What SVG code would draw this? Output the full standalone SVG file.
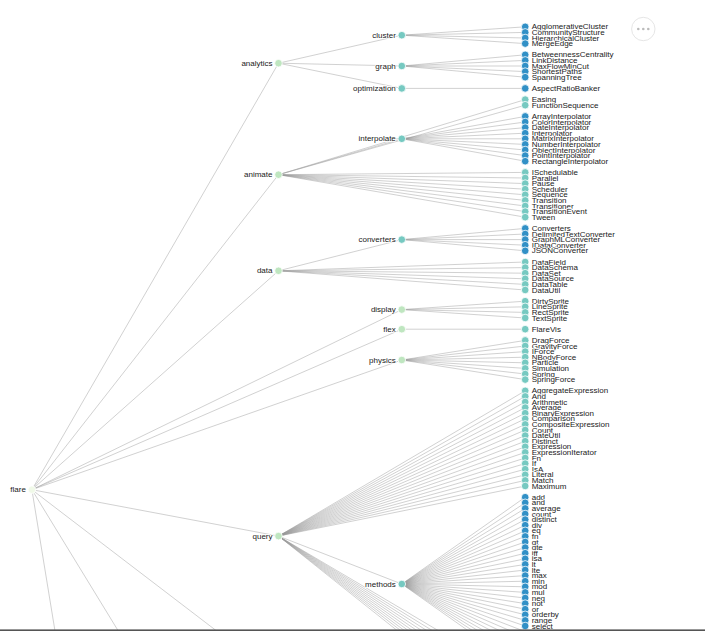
<svg xmlns="http://www.w3.org/2000/svg" width="705" height="631" viewBox="0 0 705 631">
<style>
.links line{stroke:#999;stroke-opacity:.45;stroke-width:1}
.node circle{stroke:#fff;stroke-width:.8}
.node text{font-family:"Liberation Sans",Arial,sans-serif;font-size:8px;fill:#1a1a1a;stroke:#fff;stroke-width:1.6;stroke-linejoin:round;paint-order:stroke}
.int text{text-anchor:end}
.d0 circle{fill:#f0f9e8}
.d1 circle{fill:#bfe6c0}
.d2 circle{fill:#76c9c1}
.d3 circle{fill:#3190c6}
</style>
<rect width="705" height="631" fill="#fff"/>
<g id="links" class="links">
<line x1="31.9" y1="489.7" x2="278.5" y2="63.2"/>
<line x1="31.9" y1="489.7" x2="278.5" y2="174.7"/>
<line x1="31.9" y1="489.7" x2="278.5" y2="270.8"/>
<line x1="31.9" y1="489.7" x2="401.8" y2="309.6"/>
<line x1="31.9" y1="489.7" x2="401.8" y2="329.2"/>
<line x1="31.9" y1="489.7" x2="401.8" y2="360"/>
<line x1="31.9" y1="489.7" x2="278.5" y2="536.1"/>
<line x1="31.9" y1="489.7" x2="401.8" y2="772.5"/>
<line x1="31.9" y1="489.7" x2="278.5" y2="892.9"/>
<line x1="31.9" y1="489.7" x2="155.2" y2="1244"/>
<line x1="278.5" y1="63.2" x2="401.8" y2="35.2"/>
<line x1="278.5" y1="63.2" x2="401.8" y2="66"/>
<line x1="278.5" y1="63.2" x2="401.8" y2="88.4"/>
<line x1="401.8" y1="35.2" x2="525.2" y2="26.8"/>
<line x1="401.8" y1="35.2" x2="525.2" y2="32.4"/>
<line x1="401.8" y1="35.2" x2="525.2" y2="38"/>
<line x1="401.8" y1="35.2" x2="525.2" y2="43.6"/>
<line x1="401.8" y1="66" x2="525.2" y2="54.8"/>
<line x1="401.8" y1="66" x2="525.2" y2="60.4"/>
<line x1="401.8" y1="66" x2="525.2" y2="66"/>
<line x1="401.8" y1="66" x2="525.2" y2="71.6"/>
<line x1="401.8" y1="66" x2="525.2" y2="77.2"/>
<line x1="401.8" y1="88.4" x2="525.2" y2="88.4"/>
<line x1="278.5" y1="174.7" x2="525.2" y2="99.6"/>
<line x1="278.5" y1="174.7" x2="525.2" y2="105.2"/>
<line x1="278.5" y1="174.7" x2="401.8" y2="138.8"/>
<line x1="278.5" y1="174.7" x2="525.2" y2="172.4"/>
<line x1="278.5" y1="174.7" x2="525.2" y2="178"/>
<line x1="278.5" y1="174.7" x2="525.2" y2="183.6"/>
<line x1="278.5" y1="174.7" x2="525.2" y2="189.2"/>
<line x1="278.5" y1="174.7" x2="525.2" y2="194.8"/>
<line x1="278.5" y1="174.7" x2="525.2" y2="200.4"/>
<line x1="278.5" y1="174.7" x2="525.2" y2="206"/>
<line x1="278.5" y1="174.7" x2="525.2" y2="211.6"/>
<line x1="278.5" y1="174.7" x2="525.2" y2="217.2"/>
<line x1="401.8" y1="138.8" x2="525.2" y2="116.4"/>
<line x1="401.8" y1="138.8" x2="525.2" y2="122"/>
<line x1="401.8" y1="138.8" x2="525.2" y2="127.6"/>
<line x1="401.8" y1="138.8" x2="525.2" y2="133.2"/>
<line x1="401.8" y1="138.8" x2="525.2" y2="138.8"/>
<line x1="401.8" y1="138.8" x2="525.2" y2="144.4"/>
<line x1="401.8" y1="138.8" x2="525.2" y2="150"/>
<line x1="401.8" y1="138.8" x2="525.2" y2="155.6"/>
<line x1="401.8" y1="138.8" x2="525.2" y2="161.2"/>
<line x1="278.5" y1="270.8" x2="401.8" y2="239.6"/>
<line x1="278.5" y1="270.8" x2="525.2" y2="262"/>
<line x1="278.5" y1="270.8" x2="525.2" y2="267.6"/>
<line x1="278.5" y1="270.8" x2="525.2" y2="273.2"/>
<line x1="278.5" y1="270.8" x2="525.2" y2="278.8"/>
<line x1="278.5" y1="270.8" x2="525.2" y2="284.4"/>
<line x1="278.5" y1="270.8" x2="525.2" y2="290"/>
<line x1="401.8" y1="239.6" x2="525.2" y2="228.4"/>
<line x1="401.8" y1="239.6" x2="525.2" y2="234"/>
<line x1="401.8" y1="239.6" x2="525.2" y2="239.6"/>
<line x1="401.8" y1="239.6" x2="525.2" y2="245.2"/>
<line x1="401.8" y1="239.6" x2="525.2" y2="250.8"/>
<line x1="401.8" y1="309.6" x2="525.2" y2="301.2"/>
<line x1="401.8" y1="309.6" x2="525.2" y2="306.8"/>
<line x1="401.8" y1="309.6" x2="525.2" y2="312.4"/>
<line x1="401.8" y1="309.6" x2="525.2" y2="318"/>
<line x1="401.8" y1="329.2" x2="525.2" y2="329.2"/>
<line x1="401.8" y1="360" x2="525.2" y2="340.4"/>
<line x1="401.8" y1="360" x2="525.2" y2="346"/>
<line x1="401.8" y1="360" x2="525.2" y2="351.6"/>
<line x1="401.8" y1="360" x2="525.2" y2="357.2"/>
<line x1="401.8" y1="360" x2="525.2" y2="362.8"/>
<line x1="401.8" y1="360" x2="525.2" y2="368.4"/>
<line x1="401.8" y1="360" x2="525.2" y2="374"/>
<line x1="401.8" y1="360" x2="525.2" y2="379.6"/>
<line x1="278.5" y1="536.1" x2="525.2" y2="390.8"/>
<line x1="278.5" y1="536.1" x2="525.2" y2="396.4"/>
<line x1="278.5" y1="536.1" x2="525.2" y2="402"/>
<line x1="278.5" y1="536.1" x2="525.2" y2="407.6"/>
<line x1="278.5" y1="536.1" x2="525.2" y2="413.2"/>
<line x1="278.5" y1="536.1" x2="525.2" y2="418.8"/>
<line x1="278.5" y1="536.1" x2="525.2" y2="424.4"/>
<line x1="278.5" y1="536.1" x2="525.2" y2="430"/>
<line x1="278.5" y1="536.1" x2="525.2" y2="435.6"/>
<line x1="278.5" y1="536.1" x2="525.2" y2="441.2"/>
<line x1="278.5" y1="536.1" x2="525.2" y2="446.8"/>
<line x1="278.5" y1="536.1" x2="525.2" y2="452.4"/>
<line x1="278.5" y1="536.1" x2="525.2" y2="458"/>
<line x1="278.5" y1="536.1" x2="525.2" y2="463.6"/>
<line x1="278.5" y1="536.1" x2="525.2" y2="469.2"/>
<line x1="278.5" y1="536.1" x2="525.2" y2="474.8"/>
<line x1="278.5" y1="536.1" x2="525.2" y2="480.4"/>
<line x1="278.5" y1="536.1" x2="525.2" y2="486"/>
<line x1="278.5" y1="536.1" x2="401.8" y2="584"/>
<line x1="278.5" y1="536.1" x2="525.2" y2="682"/>
<line x1="278.5" y1="536.1" x2="525.2" y2="687.6"/>
<line x1="278.5" y1="536.1" x2="525.2" y2="693.2"/>
<line x1="278.5" y1="536.1" x2="525.2" y2="698.8"/>
<line x1="278.5" y1="536.1" x2="525.2" y2="704.4"/>
<line x1="278.5" y1="536.1" x2="525.2" y2="710"/>
<line x1="278.5" y1="536.1" x2="525.2" y2="715.6"/>
<line x1="278.5" y1="536.1" x2="525.2" y2="721.2"/>
<line x1="278.5" y1="536.1" x2="525.2" y2="726.8"/>
<line x1="278.5" y1="536.1" x2="525.2" y2="732.4"/>
<line x1="401.8" y1="584" x2="525.2" y2="497.2"/>
<line x1="401.8" y1="584" x2="525.2" y2="502.8"/>
<line x1="401.8" y1="584" x2="525.2" y2="508.4"/>
<line x1="401.8" y1="584" x2="525.2" y2="514"/>
<line x1="401.8" y1="584" x2="525.2" y2="519.6"/>
<line x1="401.8" y1="584" x2="525.2" y2="525.2"/>
<line x1="401.8" y1="584" x2="525.2" y2="530.8"/>
<line x1="401.8" y1="584" x2="525.2" y2="536.4"/>
<line x1="401.8" y1="584" x2="525.2" y2="542"/>
<line x1="401.8" y1="584" x2="525.2" y2="547.6"/>
<line x1="401.8" y1="584" x2="525.2" y2="553.2"/>
<line x1="401.8" y1="584" x2="525.2" y2="558.8"/>
<line x1="401.8" y1="584" x2="525.2" y2="564.4"/>
<line x1="401.8" y1="584" x2="525.2" y2="570"/>
<line x1="401.8" y1="584" x2="525.2" y2="575.6"/>
<line x1="401.8" y1="584" x2="525.2" y2="581.2"/>
<line x1="401.8" y1="584" x2="525.2" y2="586.8"/>
<line x1="401.8" y1="584" x2="525.2" y2="592.4"/>
<line x1="401.8" y1="584" x2="525.2" y2="598"/>
<line x1="401.8" y1="584" x2="525.2" y2="603.6"/>
<line x1="401.8" y1="584" x2="525.2" y2="609.2"/>
<line x1="401.8" y1="584" x2="525.2" y2="614.8"/>
<line x1="401.8" y1="584" x2="525.2" y2="620.4"/>
<line x1="401.8" y1="584" x2="525.2" y2="626"/>
<line x1="401.8" y1="584" x2="525.2" y2="631.6"/>
<line x1="401.8" y1="584" x2="525.2" y2="637.2"/>
<line x1="401.8" y1="584" x2="525.2" y2="642.8"/>
<line x1="401.8" y1="584" x2="525.2" y2="648.4"/>
<line x1="401.8" y1="584" x2="525.2" y2="654"/>
<line x1="401.8" y1="584" x2="525.2" y2="659.6"/>
<line x1="401.8" y1="584" x2="525.2" y2="665.2"/>
<line x1="401.8" y1="584" x2="525.2" y2="670.8"/>
</g>
<g id="nodes">
<g id="flare" class="node int d0" transform="translate(31.9,489.7)"><circle r="3.8"/><text x="-6" dy="0.32em">flare</text></g>
<g id="analytics" class="node int d1" transform="translate(278.5,63.2)"><circle r="3.8"/><text x="-6" dy="0.32em">analytics</text></g>
<g id="animate" class="node int d1" transform="translate(278.5,174.7)"><circle r="3.8"/><text x="-6" dy="0.32em">animate</text></g>
<g id="data" class="node int d1" transform="translate(278.5,270.8)"><circle r="3.8"/><text x="-6" dy="0.32em">data</text></g>
<g id="display" class="node int d1" transform="translate(401.8,309.6)"><circle r="3.8"/><text x="-6" dy="0.32em">display</text></g>
<g id="flex" class="node int d1" transform="translate(401.8,329.2)"><circle r="3.8"/><text x="-6" dy="0.32em">flex</text></g>
<g id="physics" class="node int d1" transform="translate(401.8,360)"><circle r="3.8"/><text x="-6" dy="0.32em">physics</text></g>
<g id="query" class="node int d1" transform="translate(278.5,536.1)"><circle r="3.8"/><text x="-6" dy="0.32em">query</text></g>
<g id="analytics-cluster" class="node int d2" transform="translate(401.8,35.2)"><circle r="3.8"/><text x="-6" dy="0.32em">cluster</text></g>
<g id="analytics-graph" class="node int d2" transform="translate(401.8,66)"><circle r="3.8"/><text x="-6" dy="0.32em">graph</text></g>
<g id="analytics-optimization" class="node int d2" transform="translate(401.8,88.4)"><circle r="3.8"/><text x="-6" dy="0.32em">optimization</text></g>
<g id="animate-interpolate" class="node int d2" transform="translate(401.8,138.8)"><circle r="3.8"/><text x="-6" dy="0.32em">interpolate</text></g>
<g id="data-converters" class="node int d2" transform="translate(401.8,239.6)"><circle r="3.8"/><text x="-6" dy="0.32em">converters</text></g>
<g id="query-methods" class="node int d2" transform="translate(401.8,584)"><circle r="3.8"/><text x="-6" dy="0.32em">methods</text></g>
<g id="cluster-AgglomerativeCluster" class="node d3" transform="translate(525.2,26.8)"><circle r="3.8"/><text x="6.5" dy="0.32em">AgglomerativeCluster</text></g>
<g id="cluster-CommunityStructure" class="node d3" transform="translate(525.2,32.4)"><circle r="3.8"/><text x="6.5" dy="0.32em">CommunityStructure</text></g>
<g id="cluster-HierarchicalCluster" class="node d3" transform="translate(525.2,38)"><circle r="3.8"/><text x="6.5" dy="0.32em">HierarchicalCluster</text></g>
<g id="cluster-MergeEdge" class="node d3" transform="translate(525.2,43.6)"><circle r="3.8"/><text x="6.5" dy="0.32em">MergeEdge</text></g>
<g id="graph-BetweennessCentrality" class="node d3" transform="translate(525.2,54.8)"><circle r="3.8"/><text x="6.5" dy="0.32em">BetweennessCentrality</text></g>
<g id="graph-LinkDistance" class="node d3" transform="translate(525.2,60.4)"><circle r="3.8"/><text x="6.5" dy="0.32em">LinkDistance</text></g>
<g id="graph-MaxFlowMinCut" class="node d3" transform="translate(525.2,66)"><circle r="3.8"/><text x="6.5" dy="0.32em">MaxFlowMinCut</text></g>
<g id="graph-ShortestPaths" class="node d3" transform="translate(525.2,71.6)"><circle r="3.8"/><text x="6.5" dy="0.32em">ShortestPaths</text></g>
<g id="graph-SpanningTree" class="node d3" transform="translate(525.2,77.2)"><circle r="3.8"/><text x="6.5" dy="0.32em">SpanningTree</text></g>
<g id="optimization-AspectRatioBanker" class="node d3" transform="translate(525.2,88.4)"><circle r="3.8"/><text x="6.5" dy="0.32em">AspectRatioBanker</text></g>
<g id="animate-Easing" class="node d2" transform="translate(525.2,99.6)"><circle r="3.8"/><text x="6.5" dy="0.32em">Easing</text></g>
<g id="animate-FunctionSequence" class="node d2" transform="translate(525.2,105.2)"><circle r="3.8"/><text x="6.5" dy="0.32em">FunctionSequence</text></g>
<g id="interpolate-ArrayInterpolator" class="node d3" transform="translate(525.2,116.4)"><circle r="3.8"/><text x="6.5" dy="0.32em">ArrayInterpolator</text></g>
<g id="interpolate-ColorInterpolator" class="node d3" transform="translate(525.2,122)"><circle r="3.8"/><text x="6.5" dy="0.32em">ColorInterpolator</text></g>
<g id="interpolate-DateInterpolator" class="node d3" transform="translate(525.2,127.6)"><circle r="3.8"/><text x="6.5" dy="0.32em">DateInterpolator</text></g>
<g id="interpolate-Interpolator" class="node d3" transform="translate(525.2,133.2)"><circle r="3.8"/><text x="6.5" dy="0.32em">Interpolator</text></g>
<g id="interpolate-MatrixInterpolator" class="node d3" transform="translate(525.2,138.8)"><circle r="3.8"/><text x="6.5" dy="0.32em">MatrixInterpolator</text></g>
<g id="interpolate-NumberInterpolator" class="node d3" transform="translate(525.2,144.4)"><circle r="3.8"/><text x="6.5" dy="0.32em">NumberInterpolator</text></g>
<g id="interpolate-ObjectInterpolator" class="node d3" transform="translate(525.2,150)"><circle r="3.8"/><text x="6.5" dy="0.32em">ObjectInterpolator</text></g>
<g id="interpolate-PointInterpolator" class="node d3" transform="translate(525.2,155.6)"><circle r="3.8"/><text x="6.5" dy="0.32em">PointInterpolator</text></g>
<g id="interpolate-RectangleInterpolator" class="node d3" transform="translate(525.2,161.2)"><circle r="3.8"/><text x="6.5" dy="0.32em">RectangleInterpolator</text></g>
<g id="animate-ISchedulable" class="node d2" transform="translate(525.2,172.4)"><circle r="3.8"/><text x="6.5" dy="0.32em">ISchedulable</text></g>
<g id="animate-Parallel" class="node d2" transform="translate(525.2,178)"><circle r="3.8"/><text x="6.5" dy="0.32em">Parallel</text></g>
<g id="animate-Pause" class="node d2" transform="translate(525.2,183.6)"><circle r="3.8"/><text x="6.5" dy="0.32em">Pause</text></g>
<g id="animate-Scheduler" class="node d2" transform="translate(525.2,189.2)"><circle r="3.8"/><text x="6.5" dy="0.32em">Scheduler</text></g>
<g id="animate-Sequence" class="node d2" transform="translate(525.2,194.8)"><circle r="3.8"/><text x="6.5" dy="0.32em">Sequence</text></g>
<g id="animate-Transition" class="node d2" transform="translate(525.2,200.4)"><circle r="3.8"/><text x="6.5" dy="0.32em">Transition</text></g>
<g id="animate-Transitioner" class="node d2" transform="translate(525.2,206)"><circle r="3.8"/><text x="6.5" dy="0.32em">Transitioner</text></g>
<g id="animate-TransitionEvent" class="node d2" transform="translate(525.2,211.6)"><circle r="3.8"/><text x="6.5" dy="0.32em">TransitionEvent</text></g>
<g id="animate-Tween" class="node d2" transform="translate(525.2,217.2)"><circle r="3.8"/><text x="6.5" dy="0.32em">Tween</text></g>
<g id="converters-Converters" class="node d3" transform="translate(525.2,228.4)"><circle r="3.8"/><text x="6.5" dy="0.32em">Converters</text></g>
<g id="converters-DelimitedTextConverter" class="node d3" transform="translate(525.2,234)"><circle r="3.8"/><text x="6.5" dy="0.32em">DelimitedTextConverter</text></g>
<g id="converters-GraphMLConverter" class="node d3" transform="translate(525.2,239.6)"><circle r="3.8"/><text x="6.5" dy="0.32em">GraphMLConverter</text></g>
<g id="converters-IDataConverter" class="node d3" transform="translate(525.2,245.2)"><circle r="3.8"/><text x="6.5" dy="0.32em">IDataConverter</text></g>
<g id="converters-JSONConverter" class="node d3" transform="translate(525.2,250.8)"><circle r="3.8"/><text x="6.5" dy="0.32em">JSONConverter</text></g>
<g id="data-DataField" class="node d2" transform="translate(525.2,262)"><circle r="3.8"/><text x="6.5" dy="0.32em">DataField</text></g>
<g id="data-DataSchema" class="node d2" transform="translate(525.2,267.6)"><circle r="3.8"/><text x="6.5" dy="0.32em">DataSchema</text></g>
<g id="data-DataSet" class="node d2" transform="translate(525.2,273.2)"><circle r="3.8"/><text x="6.5" dy="0.32em">DataSet</text></g>
<g id="data-DataSource" class="node d2" transform="translate(525.2,278.8)"><circle r="3.8"/><text x="6.5" dy="0.32em">DataSource</text></g>
<g id="data-DataTable" class="node d2" transform="translate(525.2,284.4)"><circle r="3.8"/><text x="6.5" dy="0.32em">DataTable</text></g>
<g id="data-DataUtil" class="node d2" transform="translate(525.2,290)"><circle r="3.8"/><text x="6.5" dy="0.32em">DataUtil</text></g>
<g id="display-DirtySprite" class="node d2" transform="translate(525.2,301.2)"><circle r="3.8"/><text x="6.5" dy="0.32em">DirtySprite</text></g>
<g id="display-LineSprite" class="node d2" transform="translate(525.2,306.8)"><circle r="3.8"/><text x="6.5" dy="0.32em">LineSprite</text></g>
<g id="display-RectSprite" class="node d2" transform="translate(525.2,312.4)"><circle r="3.8"/><text x="6.5" dy="0.32em">RectSprite</text></g>
<g id="display-TextSprite" class="node d2" transform="translate(525.2,318)"><circle r="3.8"/><text x="6.5" dy="0.32em">TextSprite</text></g>
<g id="flex-FlareVis" class="node d2" transform="translate(525.2,329.2)"><circle r="3.8"/><text x="6.5" dy="0.32em">FlareVis</text></g>
<g id="physics-DragForce" class="node d2" transform="translate(525.2,340.4)"><circle r="3.8"/><text x="6.5" dy="0.32em">DragForce</text></g>
<g id="physics-GravityForce" class="node d2" transform="translate(525.2,346)"><circle r="3.8"/><text x="6.5" dy="0.32em">GravityForce</text></g>
<g id="physics-IForce" class="node d2" transform="translate(525.2,351.6)"><circle r="3.8"/><text x="6.5" dy="0.32em">IForce</text></g>
<g id="physics-NBodyForce" class="node d2" transform="translate(525.2,357.2)"><circle r="3.8"/><text x="6.5" dy="0.32em">NBodyForce</text></g>
<g id="physics-Particle" class="node d2" transform="translate(525.2,362.8)"><circle r="3.8"/><text x="6.5" dy="0.32em">Particle</text></g>
<g id="physics-Simulation" class="node d2" transform="translate(525.2,368.4)"><circle r="3.8"/><text x="6.5" dy="0.32em">Simulation</text></g>
<g id="physics-Spring" class="node d2" transform="translate(525.2,374)"><circle r="3.8"/><text x="6.5" dy="0.32em">Spring</text></g>
<g id="physics-SpringForce" class="node d2" transform="translate(525.2,379.6)"><circle r="3.8"/><text x="6.5" dy="0.32em">SpringForce</text></g>
<g id="query-AggregateExpression" class="node d2" transform="translate(525.2,390.8)"><circle r="3.8"/><text x="6.5" dy="0.32em">AggregateExpression</text></g>
<g id="query-And" class="node d2" transform="translate(525.2,396.4)"><circle r="3.8"/><text x="6.5" dy="0.32em">And</text></g>
<g id="query-Arithmetic" class="node d2" transform="translate(525.2,402)"><circle r="3.8"/><text x="6.5" dy="0.32em">Arithmetic</text></g>
<g id="query-Average" class="node d2" transform="translate(525.2,407.6)"><circle r="3.8"/><text x="6.5" dy="0.32em">Average</text></g>
<g id="query-BinaryExpression" class="node d2" transform="translate(525.2,413.2)"><circle r="3.8"/><text x="6.5" dy="0.32em">BinaryExpression</text></g>
<g id="query-Comparison" class="node d2" transform="translate(525.2,418.8)"><circle r="3.8"/><text x="6.5" dy="0.32em">Comparison</text></g>
<g id="query-CompositeExpression" class="node d2" transform="translate(525.2,424.4)"><circle r="3.8"/><text x="6.5" dy="0.32em">CompositeExpression</text></g>
<g id="query-Count" class="node d2" transform="translate(525.2,430)"><circle r="3.8"/><text x="6.5" dy="0.32em">Count</text></g>
<g id="query-DateUtil" class="node d2" transform="translate(525.2,435.6)"><circle r="3.8"/><text x="6.5" dy="0.32em">DateUtil</text></g>
<g id="query-Distinct" class="node d2" transform="translate(525.2,441.2)"><circle r="3.8"/><text x="6.5" dy="0.32em">Distinct</text></g>
<g id="query-Expression" class="node d2" transform="translate(525.2,446.8)"><circle r="3.8"/><text x="6.5" dy="0.32em">Expression</text></g>
<g id="query-ExpressionIterator" class="node d2" transform="translate(525.2,452.4)"><circle r="3.8"/><text x="6.5" dy="0.32em">ExpressionIterator</text></g>
<g id="query-Fn" class="node d2" transform="translate(525.2,458)"><circle r="3.8"/><text x="6.5" dy="0.32em">Fn</text></g>
<g id="query-If" class="node d2" transform="translate(525.2,463.6)"><circle r="3.8"/><text x="6.5" dy="0.32em">If</text></g>
<g id="query-IsA" class="node d2" transform="translate(525.2,469.2)"><circle r="3.8"/><text x="6.5" dy="0.32em">IsA</text></g>
<g id="query-Literal" class="node d2" transform="translate(525.2,474.8)"><circle r="3.8"/><text x="6.5" dy="0.32em">Literal</text></g>
<g id="query-Match" class="node d2" transform="translate(525.2,480.4)"><circle r="3.8"/><text x="6.5" dy="0.32em">Match</text></g>
<g id="query-Maximum" class="node d2" transform="translate(525.2,486)"><circle r="3.8"/><text x="6.5" dy="0.32em">Maximum</text></g>
<g id="methods-add" class="node d3" transform="translate(525.2,497.2)"><circle r="3.8"/><text x="6.5" dy="0.32em">add</text></g>
<g id="methods-and" class="node d3" transform="translate(525.2,502.8)"><circle r="3.8"/><text x="6.5" dy="0.32em">and</text></g>
<g id="methods-average" class="node d3" transform="translate(525.2,508.4)"><circle r="3.8"/><text x="6.5" dy="0.32em">average</text></g>
<g id="methods-count" class="node d3" transform="translate(525.2,514)"><circle r="3.8"/><text x="6.5" dy="0.32em">count</text></g>
<g id="methods-distinct" class="node d3" transform="translate(525.2,519.6)"><circle r="3.8"/><text x="6.5" dy="0.32em">distinct</text></g>
<g id="methods-div" class="node d3" transform="translate(525.2,525.2)"><circle r="3.8"/><text x="6.5" dy="0.32em">div</text></g>
<g id="methods-eq" class="node d3" transform="translate(525.2,530.8)"><circle r="3.8"/><text x="6.5" dy="0.32em">eq</text></g>
<g id="methods-fn" class="node d3" transform="translate(525.2,536.4)"><circle r="3.8"/><text x="6.5" dy="0.32em">fn</text></g>
<g id="methods-gt" class="node d3" transform="translate(525.2,542)"><circle r="3.8"/><text x="6.5" dy="0.32em">gt</text></g>
<g id="methods-gte" class="node d3" transform="translate(525.2,547.6)"><circle r="3.8"/><text x="6.5" dy="0.32em">gte</text></g>
<g id="methods-iff" class="node d3" transform="translate(525.2,553.2)"><circle r="3.8"/><text x="6.5" dy="0.32em">iff</text></g>
<g id="methods-isa" class="node d3" transform="translate(525.2,558.8)"><circle r="3.8"/><text x="6.5" dy="0.32em">isa</text></g>
<g id="methods-lt" class="node d3" transform="translate(525.2,564.4)"><circle r="3.8"/><text x="6.5" dy="0.32em">lt</text></g>
<g id="methods-lte" class="node d3" transform="translate(525.2,570)"><circle r="3.8"/><text x="6.5" dy="0.32em">lte</text></g>
<g id="methods-max" class="node d3" transform="translate(525.2,575.6)"><circle r="3.8"/><text x="6.5" dy="0.32em">max</text></g>
<g id="methods-min" class="node d3" transform="translate(525.2,581.2)"><circle r="3.8"/><text x="6.5" dy="0.32em">min</text></g>
<g id="methods-mod" class="node d3" transform="translate(525.2,586.8)"><circle r="3.8"/><text x="6.5" dy="0.32em">mod</text></g>
<g id="methods-mul" class="node d3" transform="translate(525.2,592.4)"><circle r="3.8"/><text x="6.5" dy="0.32em">mul</text></g>
<g id="methods-neq" class="node d3" transform="translate(525.2,598)"><circle r="3.8"/><text x="6.5" dy="0.32em">neq</text></g>
<g id="methods-not" class="node d3" transform="translate(525.2,603.6)"><circle r="3.8"/><text x="6.5" dy="0.32em">not</text></g>
<g id="methods-or" class="node d3" transform="translate(525.2,609.2)"><circle r="3.8"/><text x="6.5" dy="0.32em">or</text></g>
<g id="methods-orderby" class="node d3" transform="translate(525.2,614.8)"><circle r="3.8"/><text x="6.5" dy="0.32em">orderby</text></g>
<g id="methods-range" class="node d3" transform="translate(525.2,620.4)"><circle r="3.8"/><text x="6.5" dy="0.32em">range</text></g>
<g id="methods-select" class="node d3" transform="translate(525.2,626)"><circle r="3.8"/><text x="6.5" dy="0.32em">select</text></g>
</g>
<g id="menu-button">
<circle cx="643.3" cy="29" r="11.7" fill="#fff" stroke="#e6e6e6" stroke-width="1"/>
<circle cx="638.3" cy="29" r="1.3" fill="#bbb"/>
<circle cx="643.3" cy="29" r="1.3" fill="#bbb"/>
<circle cx="648.3" cy="29" r="1.3" fill="#bbb"/>
</g>
<rect id="bottom-edge" x="0" y="629.4" width="705" height="1.6" fill="#555"/>
</svg>
